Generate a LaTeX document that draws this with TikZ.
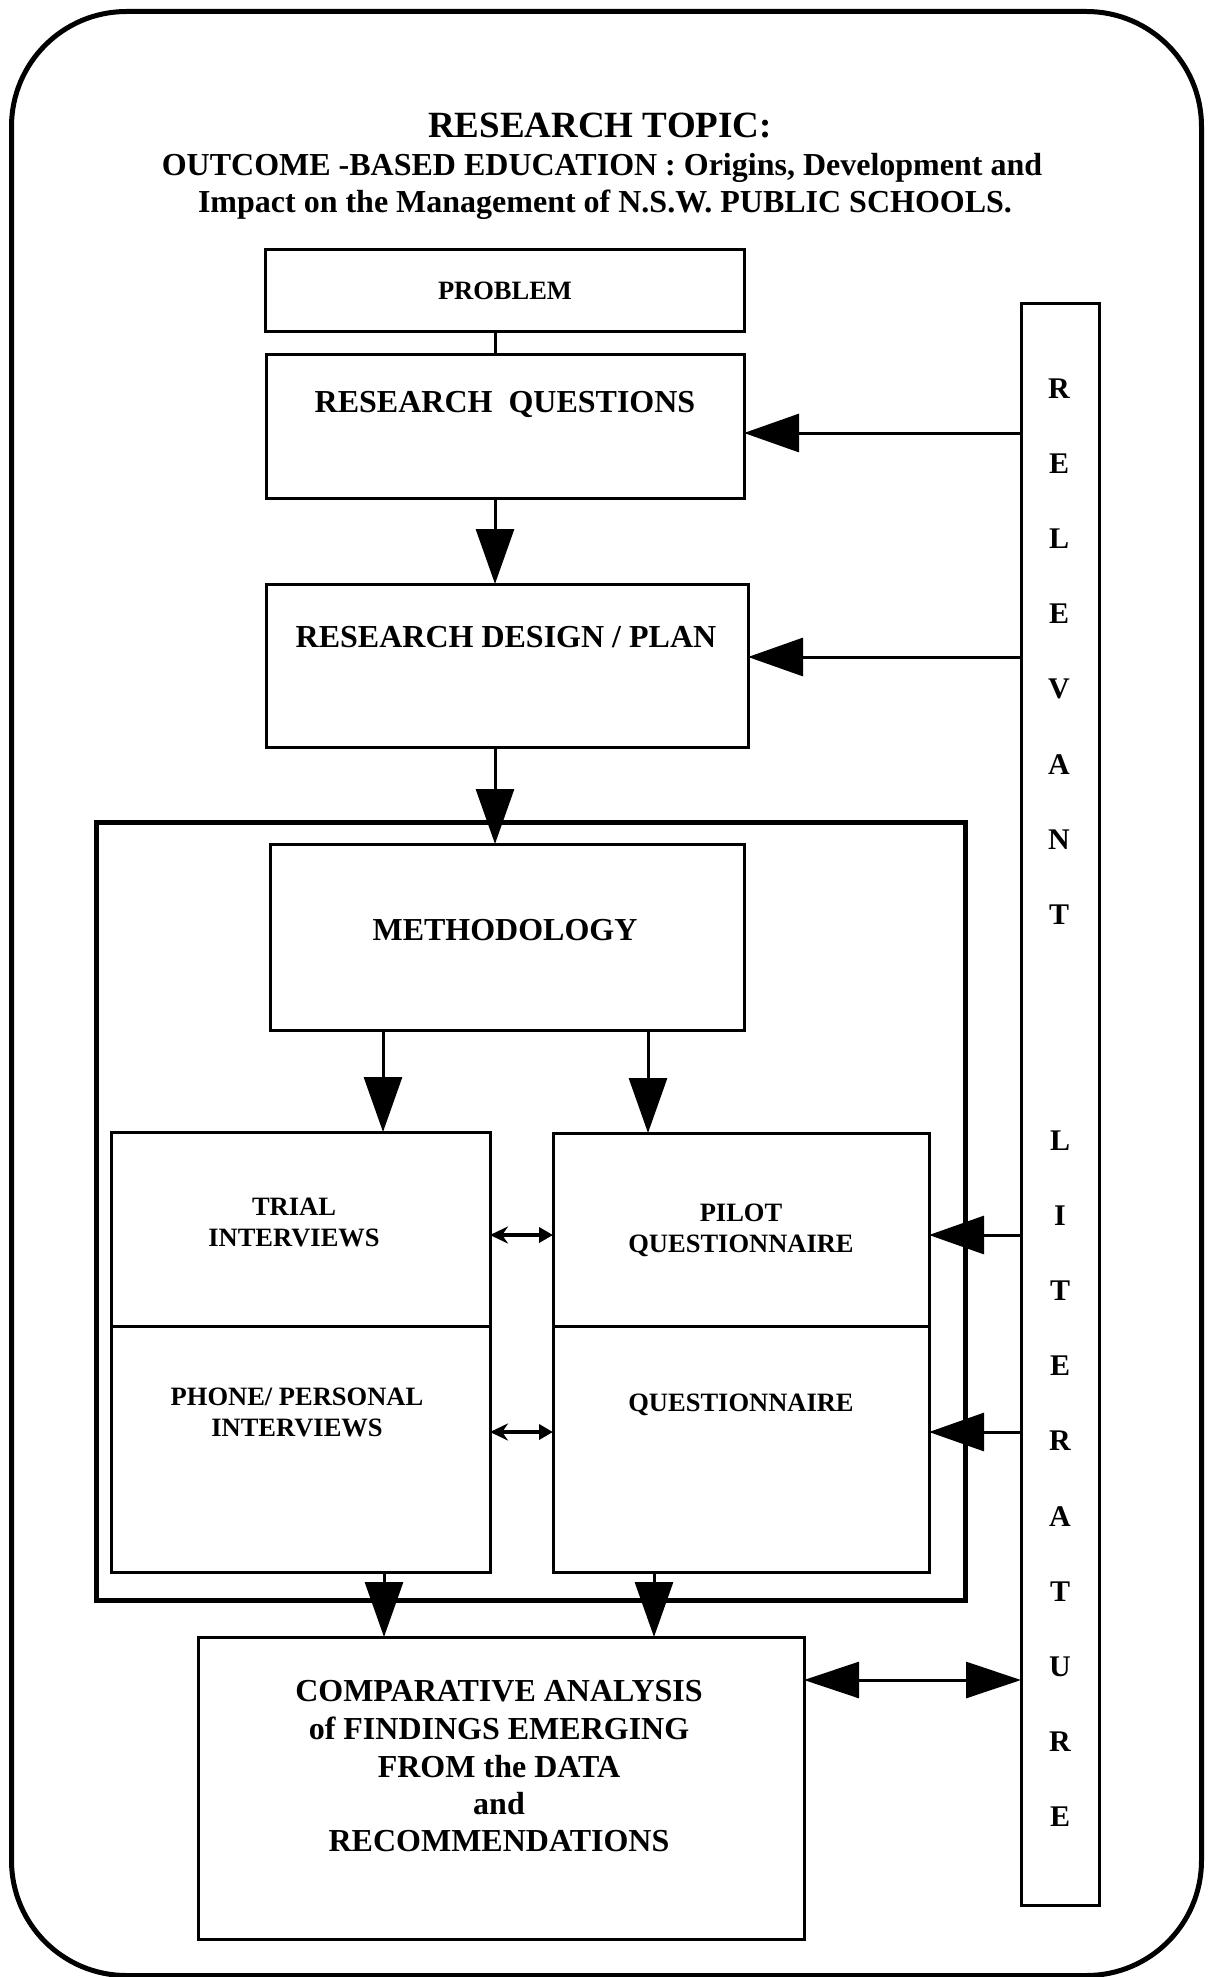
\documentclass[tikz,border=0pt]{standalone}
\usepackage{fontspec}
\setmainfont{Liberation Serif}
\usetikzlibrary{arrows.meta,calc}
\begin{document}
\begin{tikzpicture}[x=1pt,y=-1pt,
  box/.style={draw,line width=3pt,inner sep=0pt,outer sep=0pt,anchor=north west},
  tA/.style={anchor=base,inner sep=0pt,font=\bfseries\fontsize{26.5}{31}\selectfont},
  tB/.style={anchor=base,inner sep=0pt,font=\bfseries\fontsize{32}{38}\selectfont},
  tL/.style={anchor=base,inner sep=0pt,font=\bfseries\fontsize{30}{36}\selectfont},
  big/.style={line width=3pt,-{Triangle[length=55pt,width=38pt]}},
  bigboth/.style={line width=3pt,{Triangle[length=55pt,width=36pt]}-{Triangle[length=55pt,width=36pt]}},
  small/.style={line width=3.5pt,{Stealth[length=18pt,width=17pt]}-{Triangle[length=14pt,width=15pt]}},
  plain/.style={line width=3pt}
]
\useasboundingbox (0,0) rectangle (1213,1977);
% outer rounded frame
\node[draw,line width=5pt,rounded corners=115pt,inner sep=0pt,anchor=north west,
      minimum width=1190pt,minimum height=1964pt] (outer) at (9,9) {};
% title
\node[anchor=base,inner sep=0pt,font=\bfseries\fontsize{37}{44}\selectfont] (title) at (600,138) {RESEARCH TOPIC:};
\node[tB] (sub1) at (602,176) {OUTCOME -BASED EDUCATION : Origins, Development and};
\node[tB] (sub2) at (605,213) {Impact on the Management of N.S.W. PUBLIC SCHOOLS.};
% boxes
\node[box,minimum width=479pt,minimum height=81pt] (problem) at (265,250) {};
\node[box,minimum width=478pt,minimum height=144pt] (rq) at (266,354) {};
\node[box,minimum width=482pt,minimum height=163pt] (rd) at (266,584) {};
\node[box,line width=5pt,minimum width=869pt,minimum height=778pt] (frame) at (96,822) {};
\node[box,minimum width=474pt,minimum height=186pt] (meth) at (270,844) {};
\node[box,minimum width=379pt,minimum height=194pt] (trial) at (111,1132) {};
\node[box,minimum width=379pt,minimum height=246pt] (phone) at (111,1326) {};
\node[box,minimum width=376pt,minimum height=193pt] (pilot) at (553,1133) {};
\node[box,minimum width=376pt,minimum height=246pt] (quest) at (553,1326) {};
\node[box,minimum width=606pt,minimum height=302pt] (comp) at (198,1637) {};
\node[box,minimum width=78pt,minimum height=1602pt] (lit) at (1021,303) {};
% texts
\node[tA] (problemT) at (505,299) {PROBLEM};
\node[tB] (rqT) at (505,412) {RESEARCH\ \ QUESTIONS};
\node[tB] (rdT) at (506,647) {RESEARCH DESIGN / PLAN};
\node[tB] (methT) at (505,940) {METHODOLOGY};
\node[tA] (trialT1) at (294,1215) {TRIAL};
\node[tA] (trialT2) at (294,1246) {INTERVIEWS};
\node[tA] (phoneT1) at (297,1405) {PHONE/ PERSONAL};
\node[tA] (phoneT2) at (297,1436) {INTERVIEWS};
\node[tA] (pilotT1) at (741,1221) {PILOT};
\node[tA] (pilotT2) at (741,1252) {QUESTIONNAIRE};
\node[tA] (questT) at (741,1411) {QUESTIONNAIRE};
\node[tB] (compT1) at (499,1701) {COMPARATIVE ANALYSIS};
\node[tB] (compT2) at (499,1739) {of FINDINGS EMERGING};
\node[tB] (compT3) at (499,1777) {FROM the DATA};
\node[tB] (compT4) at (499,1814) {and};
\node[tB] (compT5) at (499,1851) {RECOMMENDATIONS};
\foreach \c [count=\i from 0] in {R,E,L,E,V,A,N,T}
  \node[tL] (rel\i) at (1059,398+75.2*\i) {\c};
\foreach \c [count=\i from 0] in {L,I,T,E,R,A,T,U,R,E}
  \node[tL] (lit\i) at (1060,1150+75.2*\i) {\c};
% guide coordinates
\coordinate (xA) at (495,0);
\coordinate (xB) at (383,0);
\coordinate (xC) at (648,0);
\coordinate (xD) at (384,0);
\coordinate (xE) at (654,0);
\coordinate (yA) at (0,433);
\coordinate (yB) at (0,657);
\coordinate (yC) at (0,1235);
\coordinate (yD) at (0,1432);
\coordinate (yE) at (0,1680);
% vertical connectors
\draw[plain] (problem.south -| xA) -- (rq.north -| xA);
\draw[big] (rq.south -| xA) -- (rd.north -| xA);
\draw[big] (rd.south -| xA) -- (meth.north -| xA);
\draw[big] (meth.south -| xB) -- (trial.north -| xB);
\draw[big] (meth.south -| xC) -- (pilot.north -| xC);
\draw[big] (phone.south -| xD) -- (comp.north -| xD);
\draw[big] (quest.south -| xE) -- (comp.north -| xE);
% from literature
\draw[big] (lit.west |- yA) -- (rq.east |- yA);
\draw[big] (lit.west |- yB) -- (rd.east |- yB);
\draw[big] (lit.west |- yC) -- (pilot.east |- yC);
\draw[big] (lit.west |- yD) -- (quest.east |- yD);
\draw[bigboth] (comp.east |- yE) -- (lit.west |- yE);
% small double arrows
\draw[small] (trial.east |- yC) -- (pilot.west |- yC);
\draw[small] (phone.east |- yD) -- (quest.west |- yD);
\end{tikzpicture}
\end{document}
